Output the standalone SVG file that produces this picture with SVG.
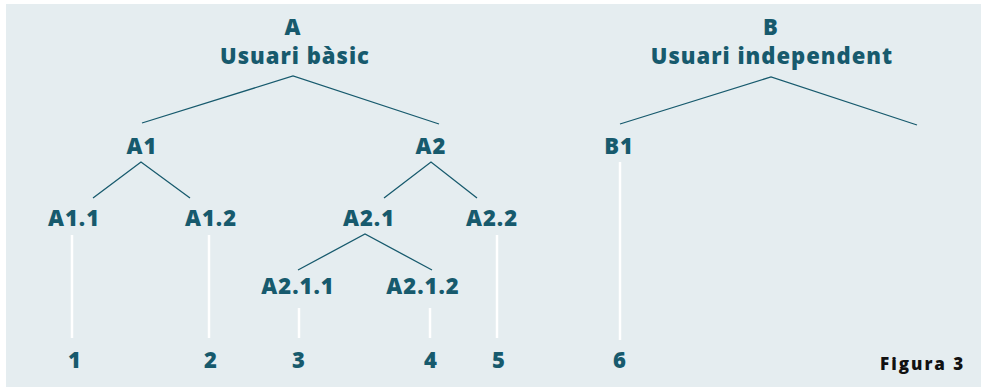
<svg xmlns="http://www.w3.org/2000/svg" width="981" height="387" viewBox="0 0 981 387">
  <style>
    .lbl { font-family: "Open Sans", "DejaVu Sans", sans-serif; font-weight: 800; font-size: 22px; fill: #175a6d; text-anchor: middle; letter-spacing: 1px; }
    .edge { stroke: #175a6d; stroke-width: 1.3; fill: none; }
    .leaf { stroke: #ffffff; stroke-width: 2.5; fill: none; }
    .cap { font-family: "Open Sans", "DejaVu Sans", sans-serif; font-weight: 800; font-size: 17px; fill: #111111; letter-spacing: 2px; }
  </style>
  <rect x="0" y="0" width="981" height="387" fill="#ffffff"/>
  <rect x="6" y="4" width="975" height="383" fill="#e5edf0"/>

  <g id="connectors">
    <polyline class="edge" points="142,123 293,76 439,124"/>
    <polyline class="edge" points="93,198 141,162 190,198"/>
    <polyline class="edge" points="384,198 431,162 477,198"/>
    <polyline class="edge" points="298,270 365,234 432,270"/>
    <polyline class="edge" points="620,124 771,77 917,125"/>
    <line class="leaf" x1="72" y1="235" x2="72" y2="338"/>
    <line class="leaf" x1="209" y1="235" x2="209" y2="338"/>
    <line class="leaf" x1="299" y1="308" x2="299" y2="338"/>
    <line class="leaf" x1="430" y1="308" x2="430" y2="338"/>
    <line class="leaf" x1="497" y1="235" x2="497" y2="338"/>
    <line class="leaf" x1="620" y1="162" x2="620" y2="340"/>
  </g>

  <g id="node-A"><text class="lbl" x="293" y="35">A</text><text class="lbl" x="295" y="64">Usuari bàsic</text></g>
  <g id="node-B"><text class="lbl" x="771" y="35">B</text><text class="lbl" x="772" y="64">Usuari independent</text></g>
  <g id="node-A1"><text class="lbl" x="142" y="154">A1</text></g>
  <g id="node-A2"><text class="lbl" x="431" y="154">A2</text></g>
  <g id="node-B1"><text class="lbl" x="619" y="154">B1</text></g>
  <g id="node-A1.1"><text class="lbl" x="74" y="226">A1.1</text></g>
  <g id="node-A1.2"><text class="lbl" x="211" y="226">A1.2</text></g>
  <g id="node-A2.1"><text class="lbl" x="369" y="226">A2.1</text></g>
  <g id="node-A2.2"><text class="lbl" x="492" y="226">A2.2</text></g>
  <g id="node-A2.1.1"><text class="lbl" x="298" y="294">A2.1.1</text></g>
  <g id="node-A2.1.2"><text class="lbl" x="423" y="294">A2.1.2</text></g>
  <g id="node-1"><text class="lbl" x="75" y="368">1</text></g>
  <g id="node-2"><text class="lbl" x="211" y="368">2</text></g>
  <g id="node-3"><text class="lbl" x="299" y="368">3</text></g>
  <g id="node-4"><text class="lbl" x="431" y="368">4</text></g>
  <g id="node-5"><text class="lbl" x="499" y="368">5</text></g>
  <g id="node-6"><text class="lbl" x="620" y="368">6</text></g>

  <text class="cap" x="880" y="370">Figura 3</text>
</svg>
